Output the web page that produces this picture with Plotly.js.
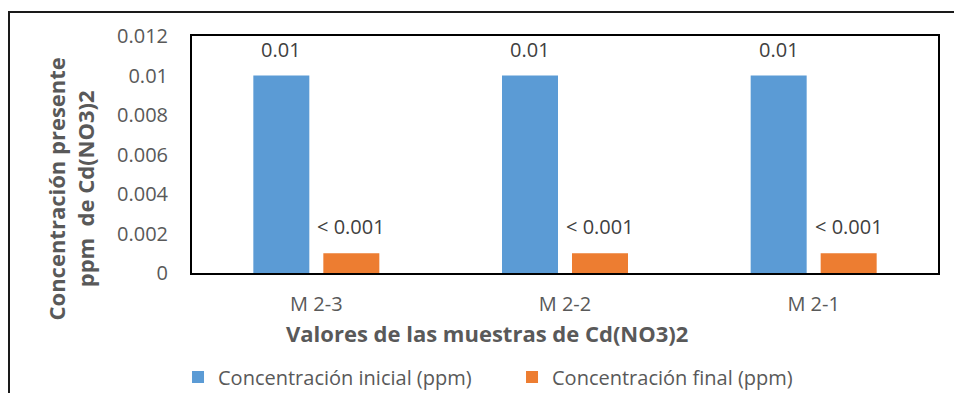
<!DOCTYPE html>
<html>
<head>
<meta charset="utf-8">
<script src="https://cdn.plot.ly/plotly-3.0.1.min.js"></script>
<style>
  html, body { margin: 0; padding: 0; background: #ffffff; overflow: hidden; }
  #wrap { position: relative; width: 954px; height: 393px; }
  #chart { width: 954px; height: 393px; }
  /* outer chart-area frame (runs off the right and bottom edges) */
  #frame { position: absolute; left: 8px; top: 11px; width: 1000px; height: 500px;
           border-left: 2px solid #1a1a1a; border-top: 2px solid #1a1a1a; pointer-events: none; }
</style>
</head>
<body>
<div id="wrap">
  <div id="chart"></div>
  <div id="frame"></div>
</div>
<script>
// Muestras de Cd(NO3)2
const categories = ['M 2-3', 'M 2-2', 'M 2-1'];
const initialValues = [0.01, 0.01, 0.01];
const finalValues = [0.001, 0.001, 0.001];
const initialLabels = ['0.01', '0.01', '0.01'];
const finalLabels = ['< 0.001', '< 0.001', '< 0.001'];
const yTickValues = [0, 0.002, 0.004, 0.006, 0.008, 0.01, 0.012];
const yTickLabels = ['0', '0.002', '0.004', '0.006', '0.008', '0.01', '0.012'];

const FONT = '"Open Sans", "Noto Sans", sans-serif';
const BLUE = '#5B9BD5';
const ORANGE = '#ED7D31';
const TEXT = '#595959';
const LABEL = '#404040';

const traces = [
  {
    type: 'bar', name: 'Concentración inicial (ppm)',
    x: categories, y: initialValues,
    marker: { color: BLUE }, hoverinfo: 'x+y'
  },
  {
    type: 'bar', name: 'Concentración final (ppm)',
    x: categories, y: finalValues,
    marker: { color: ORANGE }, hoverinfo: 'x+y'
  }
];

// value labels placed above each bar of the group
const annotations = [];
categories.forEach((c, i) => {
  annotations.push({ x: c, y: initialValues[i], xref: 'x', yref: 'y', text: initialLabels[i],
    showarrow: false, xshift: -35, yshift: 11, yanchor: 'bottom',
    font: { family: FONT, size: 20, color: LABEL } });
  annotations.push({ x: c, y: finalValues[i], xref: 'x', yref: 'y', text: finalLabels[i],
    showarrow: false, xshift: 35, yshift: 11, yanchor: 'bottom',
    font: { family: FONT, size: 20, color: LABEL } });
});

// axis titles
annotations.push({ xref: 'paper', yref: 'paper', x: 0.395, y: -0.255, xanchor: 'center', yanchor: 'middle',
  text: '<b>Valores de las muestras de Cd(NO3)2</b>', showarrow: false,
  font: { family: FONT, size: 22, color: TEXT } });
annotations.push({ xref: 'paper', yref: 'paper', x: -0.163, y: 0.354, xanchor: 'center', yanchor: 'middle',
  text: '<b>Concentración presente<br>ppm  de Cd(NO3)2</b>', showarrow: false, textangle: -90,
  font: { family: FONT, size: 22, color: TEXT } });

const layout = {
  width: 954, height: 393,
  margin: { l: 192, r: 16, t: 36, b: 120, pad: 0, autoexpand: false },
  paper_bgcolor: '#ffffff', plot_bgcolor: '#ffffff',
  font: { family: FONT, color: TEXT, size: 20 },
  barmode: 'group', bargap: 0.437, bargroupgap: 0.2,
  showlegend: true,
  legend: { orientation: 'h', xref: 'container', yref: 'container', x: 0.1866, y: 0.0407,
    xanchor: 'left', yanchor: 'middle',
    font: { family: FONT, size: 20, color: TEXT }, entrywidth: 289, traceorder: 'normal' },
  xaxis: {
    type: 'category', showgrid: false, zeroline: false,
    showline: true, linecolor: '#000000', linewidth: 2, mirror: true,
    ticks: 'outside', ticklen: 12, tickcolor: 'rgba(0,0,0,0)',
    tickfont: { family: FONT, size: 20, color: TEXT }
  },
  yaxis: {
    range: [0, 0.012], showgrid: false, zeroline: false,
    showline: true, linecolor: '#000000', linewidth: 2, mirror: true,
    tickvals: yTickValues, ticktext: yTickLabels,
    ticks: 'outside', ticklen: 18, tickcolor: 'rgba(0,0,0,0)',
    tickfont: { family: FONT, size: 20, color: TEXT }
  },
  annotations: annotations
};

Plotly.newPlot('chart', traces, layout, { displayModeBar: false, staticPlot: true });
</script>
</body>
</html>
